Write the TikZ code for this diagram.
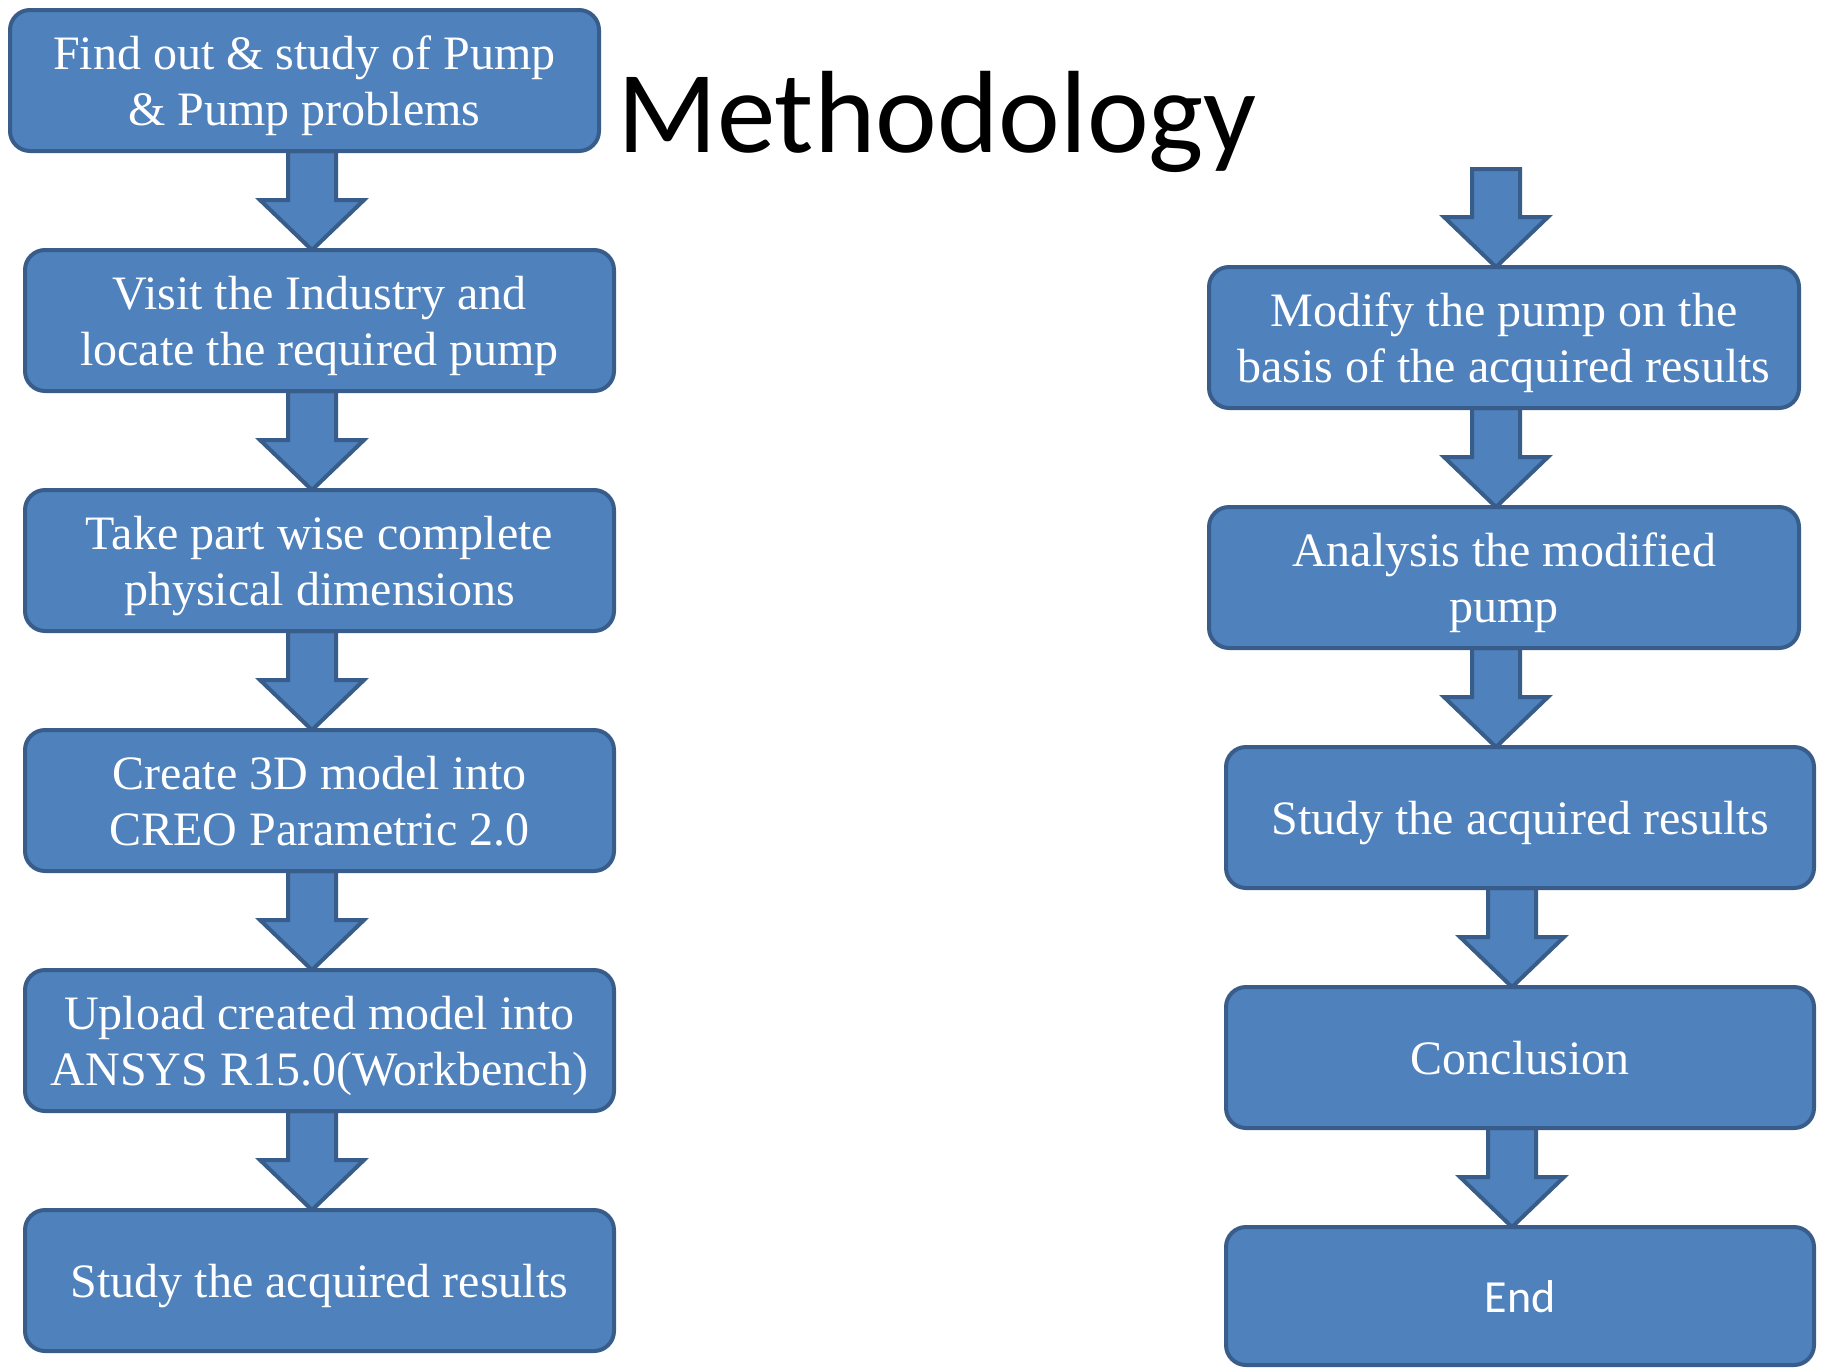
\documentclass[tikz,border=0pt]{standalone}
\usepackage{fontspec}
\setmainfont{Liberation Serif}
\newfontfamily\calib{Carlito}
\usetikzlibrary{calc,backgrounds}
\definecolor{boxfill}{HTML}{4F81BD}
\definecolor{boxline}{HTML}{385D8A}
\tikzset{
  stepbox/.style={draw=boxline, fill=boxfill, line width=4pt, rounded corners=20pt,
    text=white, font=\fontsize{48}{56}\selectfont,
    minimum height=141pt, minimum width=589pt, inner sep=0pt, outer sep=0pt},
  flow/.style={draw=boxline, fill=boxfill, line width=4pt, line join=miter},
  titletext/.style={font=\calib\fontsize{117}{130}\selectfont, inner sep=0pt, anchor=base west},
}
\newcommand{\bt}[1]{\raisebox{-6pt}[\height][\depth]{\begin{tabular}{@{}c@{}}#1\end{tabular}}}
\newcommand{\flowarrow}[3]{%
  \path[flow] let \p1=(#1), \p2=(#2) in
  (#3pt-24pt,\y1) -- (#3pt+24pt,\y1) -- (#3pt+24pt,\y2+50pt) -- (#3pt+52pt,\y2+50pt)
  -- (#3pt,\y2) -- (#3pt-52pt,\y2+50pt) -- (#3pt-24pt,\y2+50pt) -- cycle;}
\begin{document}
\begin{tikzpicture}[x=1pt,y=-1pt]
\useasboundingbox (0,0) rectangle (1822,1368);
% left column
\node[stepbox] (b1) at (304.5,80.5) {\bt{Find out \& study of Pump\\\& Pump problems}};
\node[stepbox] (b2) at (319.5,320.5) {\bt{Visit the Industry and\\locate the required pump}};
\node[stepbox] (b3) at (319.5,560.5) {\bt{Take part wise complete\\physical dimensions}};
\node[stepbox] (b4) at (319.5,800.5) {\bt{Create 3D model into\\CREO Parametric 2.0}};
\node[stepbox] (b5) at (319.5,1040.5) {\bt{Upload created model into\\ANSYS R15.0(Workbench)}};
\node[stepbox] (b6) at (319.5,1280.5) {\bt{Study the acquired results}};
% right column
\coordinate (c0) at (1496,169);
\node[stepbox, minimum width=590pt] (r1) at (1504,337.5) {\bt{Modify the pump on the\\basis of the acquired results}};
\node[stepbox, minimum width=590pt] (r2) at (1504,577.5) {\bt{Analysis the modified\\pump}};
\node[stepbox, minimum width=588pt] (r3) at (1520,817.5) {\bt{Study the acquired results}};
\node[stepbox, minimum width=588pt] (r4) at (1520,1057.5) {\bt{Conclusion}};
\node[stepbox, minimum width=588pt, minimum height=138pt, font=\calib\fontsize{46}{54}\selectfont] (r5) at (1520,1296) {\bt{End}};
% title
\node[titletext] (title) at (617,152) {Methodology};
% arrows
\begin{scope}[on background layer]
\flowarrow{b1.south}{b2.north}{312}
\flowarrow{b2.south}{b3.north}{312}
\flowarrow{b3.south}{b4.north}{312}
\flowarrow{b4.south}{b5.north}{312}
\flowarrow{b5.south}{b6.north}{312}
\flowarrow{c0}{r1.north}{1496}
\flowarrow{r1.south}{r2.north}{1496}
\flowarrow{r2.south}{r3.north}{1496}
\flowarrow{r3.south}{r4.north}{1512}
\flowarrow{r4.south}{r5.north}{1512}
\end{scope}
\end{tikzpicture}
\end{document}
